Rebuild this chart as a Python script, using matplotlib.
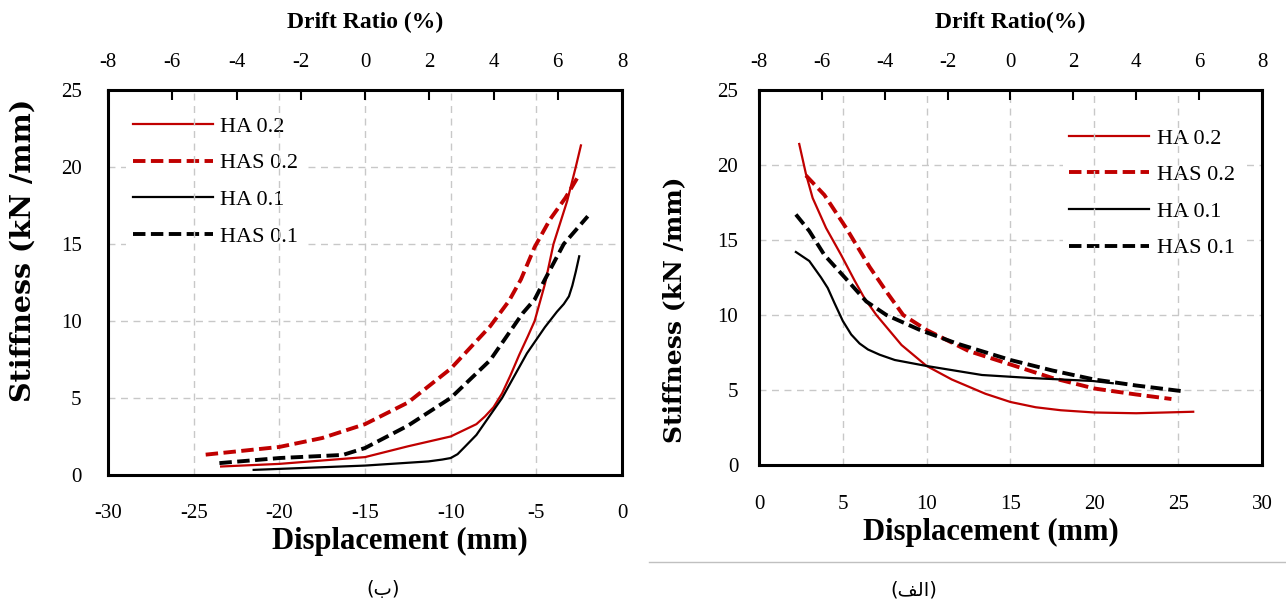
import matplotlib
matplotlib.use('Agg')
import matplotlib.pyplot as plt
from matplotlib.lines import Line2D

# ---- data: negative-direction panel (ب) ----
neg_ha02_x = [-23.4, -20, -15, -12.5, -10, -8.5, -8.0, -7.5, -7.0, -6.5, -6.0, -5.5, -5.1, -4.5, -4.0, -3.2, -2.7, -2.4]
neg_ha02_y = [0.55, 0.72, 1.16, 1.86, 2.5, 3.3, 3.8, 4.4, 5.3, 6.5, 7.8, 9.0, 10.0, 12.4, 15.0, 17.8, 20.0, 21.4]
neg_has02_x = [-24.3, -20, -17.5, -15, -12.5, -10, -7.7, -6.6, -5.9, -5.1, -4.2, -3.3, -2.5]
neg_has02_y = [1.32, 1.82, 2.4, 3.3, 4.7, 6.9, 9.65, 11.3, 12.7, 14.8, 16.6, 18.0, 19.5]
neg_ha01_x = [-21.5, -15, -11.3, -10.5, -10, -9.6, -9.2, -8.5, -7.0, -5.55, -4.5, -3.8, -3.4, -3.1, -2.9, -2.7, -2.5]
neg_ha01_y = [0.33, 0.61, 0.88, 1.0, 1.1, 1.35, 1.8, 2.6, 5.0, 7.9, 9.6, 10.6, 11.1, 11.6, 12.3, 13.2, 14.2]
neg_has01_x = [-23.5, -20, -16.3, -15, -12.5, -10, -7.7, -5.8, -5.1, -4.5, -3.4, -2.0]
neg_has01_y = [0.77, 1.1, 1.3, 1.75, 3.2, 5.0, 7.45, 10.5, 11.4, 12.7, 15.0, 16.8]

# ---- data: positive-direction panel (الف) ----
pos_ha02_x = [2.4, 2.8, 3.2, 4.0, 4.9, 5.7, 6.3, 7.0, 8.5, 10.0, 11.5, 13.5, 15.0, 16.5, 18, 20, 22.5, 25.9]
pos_ha02_y = [21.4, 19.4, 17.8, 15.8, 14.0, 12.3, 11.1, 10.0, 8.0, 6.6, 5.7, 4.75, 4.2, 3.85, 3.65, 3.5, 3.45, 3.55]
pos_has02_x = [2.8, 3.9, 5.2, 6.6, 7.7, 8.6, 10, 12.5, 15, 17.5, 20, 22.5, 24.6]
pos_has02_y = [19.3, 18.0, 15.8, 13.2, 11.4, 10.0, 9.0, 7.6, 6.7, 5.8, 5.1, 4.7, 4.4]
pos_ha01_x = [2.2, 3.0, 3.7, 4.1, 4.5, 5.0, 5.5, 6.0, 6.5, 7.2, 8.1, 10, 13.3, 16.2, 19.9, 21.1]
pos_ha01_y = [14.2, 13.6, 12.5, 11.8, 10.8, 9.6, 8.7, 8.1, 7.7, 7.35, 7.0, 6.6, 6.0, 5.8, 5.6, 5.45]
pos_has01_x = [2.2, 3.0, 3.9, 5.2, 6.4, 7.6, 9.6, 11.8, 15, 17.5, 20, 22.5, 25.4]
pos_has01_y = [16.7, 15.6, 14.0, 12.4, 10.9, 10.0, 9.0, 8.1, 7.0, 6.3, 5.7, 5.3, 4.9]

labels = ['HA 0.2', 'HAS 0.2', 'HA 0.1', 'HAS 0.1']
drift_ticks = list(range(-8, 9, 2))
stiff_ticks = [0, 5, 10, 15, 20, 25]

red = '#c00000'
dash = (0, (3.2, 1.4))
styles = [
    dict(color=red, lw=1.6, ls='-'),
    dict(color=red, lw=2.8, ls=dash),
    dict(color='black', lw=1.6, ls='-'),
    dict(color='black', lw=2.8, ls=dash),
]

plt.rcParams['font.family'] = 'Liberation Serif'
plt.rcParams['axes.unicode_minus'] = False

fig = plt.figure(figsize=(12.86, 6.08), dpi=100, facecolor='white')


def panel(rect, series, xlim, xticks, cfg):
    ax = fig.add_axes(rect)
    ax.set_xlim(*xlim)
    ax.set_ylim(0, 25)
    ax.set_xticks(xticks)
    ax.set_yticks(stiff_ticks)
    # grid drawn by hand so the legend can sit between horizontal and vertical lines
    for v in xticks[1:-1]:
        ax.axvline(v, color='#c8c8c8', lw=1.0, ls=(0, (5, 4)), zorder=0.7)
    for v in stiff_ticks[1:-1]:
        ax.axhline(v, color='#c8c8c8', lw=1.0, ls=(0, (5, 4)), zorder=0.3)
    for (xs, ys), st, lab in zip(series, styles, labels):
        ax.plot(xs, ys, label=lab, zorder=3, **st)
    for s in ax.spines.values():
        s.set_linewidth(2.2)
    ax.tick_params(axis='x', length=0, labelsize=15, pad=cfg['xpad'])
    ax.tick_params(axis='y', length=0, labelsize=15, pad=cfg['ypad'])
    ax.set_xlabel('Displacement (mm)', fontsize=22, fontweight='bold', va='center')
    ax.xaxis.set_label_coords(*cfg['xlab'])
    ax.set_ylabel('Stiffness (kN /mm)', fontsize=cfg['ylab_size'], fontweight='bold',
                  family='DejaVu Serif', va='center')
    ax.yaxis.set_label_coords(*cfg['ylab'])
    leg = ax.legend(loc='upper left', bbox_to_anchor=cfg['leg'], fontsize=16,
                    frameon=True, facecolor='white', edgecolor='none', framealpha=1,
                    fancybox=False, handlelength=3.6, handletextpad=0.35,
                    labelspacing=0.72, borderpad=0.3, borderaxespad=0)
    leg.set_zorder(0.5)

    top = ax.twiny()
    top.set_xlim(-8, 8)
    top.set_xticks(drift_ticks)
    top.tick_params(axis='x', direction='in', length=7, width=1.5, labelsize=15, pad=13)
    top.set_xlabel(cfg['top_title'], fontsize=17, fontweight='bold', labelpad=18)
    return ax


panel([0.084, 0.2188, 0.3997, 0.6332],
      [(neg_ha02_x, neg_ha02_y), (neg_has02_x, neg_has02_y),
       (neg_ha01_x, neg_ha01_y), (neg_has01_x, neg_has01_y)],
      (-30, 0), [-30, -25, -20, -15, -10, -5, 0],
      dict(xpad=21, ypad=19, xlab=(0.568, -0.174), ylab=(-0.165, 0.584),
           ylab_size=20.5, leg=(0.035, 0.949), top_title='Drift Ratio (%)'))

panel([0.5902, 0.2352, 0.3911, 0.6168],
      [(pos_ha02_x, pos_ha02_y), (pos_has02_x, pos_has02_y),
       (pos_ha01_x, pos_ha01_y), (pos_has01_x, pos_has01_y)],
      (0, 30), [0, 5, 10, 15, 20, 25, 30],
      dict(xpad=21.5, ypad=15, xlab=(0.462, -0.181), ylab=(-0.168, 0.413),
           ylab_size=18, leg=(0.604, 0.916), top_title='Drift Ratio(%)'))

# separator under the right-hand figure
fig.add_artist(Line2D([649 / 1286, 1.0], [1 - 562 / 608] * 2, color='#c0c0c0', lw=1.0))

# captions (Arabic presentation forms so the letters join without a shaping engine)
fig.text(383 / 1286, 1 - 590 / 608, '(\uFE8F)', ha='center', va='center',
         fontsize=14, family=['DejaVu Sans'])
fig.text(914 / 1286, 1 - 590 / 608, '(\uFED2\uFEDF\uFE8D)', ha='center', va='center',
         fontsize=14, family=['DejaVu Sans'])

fig.savefig('out.png', dpi=100, facecolor='white')
